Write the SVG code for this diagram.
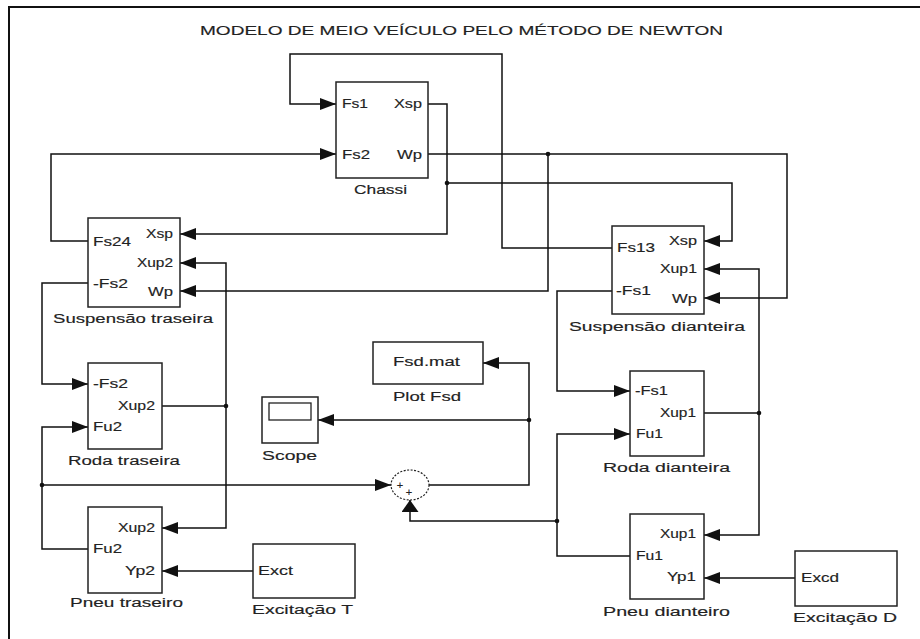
<svg xmlns="http://www.w3.org/2000/svg" width="920" height="639" viewBox="0 0 920 639">
<style>
.blk{fill:#fff;stroke:#222;stroke-width:1.5}
.ln{fill:none;stroke:#111;stroke-width:1.5}
.ar{marker-end:url(#arr)}
.t{font-family:"Liberation Sans",Arial,sans-serif;font-size:12.5px;fill:#222;stroke:#222;stroke-width:0.15}
.dot{fill:#111}
</style>
<defs>
<marker id="arr" markerUnits="userSpaceOnUse" markerWidth="17" markerHeight="13" refX="16" refY="6" orient="auto"><path d="M0,0 L16,6 L0,12 z" fill="#111"/></marker>
<marker id="arrUp" markerUnits="userSpaceOnUse" markerWidth="13" markerHeight="18" refX="12" refY="8.5" orient="auto"><path d="M0,0 L12,8.5 L0,17 z" fill="#111"/></marker>
</defs>
<rect width="920" height="639" fill="#fff"/>
<path d="M9,639 V7 H920" fill="none" stroke="#111" stroke-width="2"/>
<text class="t" x="200" y="35" textLength="523" lengthAdjust="spacingAndGlyphs" style="font-size:13px">MODELO DE MEIO VEÍCULO PELO MÉTODO DE NEWTON</text>

<g id="connectors">
<path class="ln ar" d="M612,248 H502 V54 H290 V104 H336"/>
<path class="ln ar" d="M88,241 H51 V154 H336"/>
<path class="ln ar" d="M428,104 H447 V234 H180"/>
<path class="ln ar" d="M447,183 H732 V241 H704"/>
<path class="ln ar" d="M428,154 H787 V298 H704"/>
<path class="ln ar" d="M548,154 V291 H180"/>
<path class="ln ar" d="M88,283 H42 V384 H88"/>
<path class="ln" d="M162,406 H226"/>
<path class="ln ar" d="M226,406 V263 H180"/>
<path class="ln ar" d="M226,406 V528 H162"/>
<path class="ln ar" d="M88,549 H42 V427 H88"/>
<path class="ln ar" d="M42,485 H391"/>
<path class="ln ar" d="M253,571 H162"/>
<path class="ln ar" d="M429,485 H529 V363 H483"/>
<path class="ln ar" d="M529,420 H318"/>
<path class="ln ar" d="M612,291 H557 V391 H630"/>
<path class="ln" d="M704,413 H759"/>
<path class="ln ar" d="M759,413 V269 H704"/>
<path class="ln ar" d="M759,413 V535 H704"/>
<path class="ln ar" d="M630,556 H557 V434 H630"/>
<path class="ln" d="M557,521 H410 V500" marker-end="url(#arrUp)"/>
<path class="ln ar" d="M795,578 H704"/>
<circle class="dot" cx="447" cy="183" r="2.3"/>
<circle class="dot" cx="548" cy="154" r="2.3"/>
<circle class="dot" cx="226" cy="406" r="2.3"/>
<circle class="dot" cx="42" cy="485" r="2.3"/>
<circle class="dot" cx="529" cy="420" r="2.3"/>
<circle class="dot" cx="759" cy="413" r="2.3"/>
<circle class="dot" cx="557" cy="521" r="2.3"/>
</g>

<g id="chassi">
<rect class="blk" x="336" y="82" width="92" height="96"/>
<text class="t" x="342" y="108" textLength="26" lengthAdjust="spacingAndGlyphs">Fs1</text>
<text class="t" x="394" y="108" textLength="28" lengthAdjust="spacingAndGlyphs">Xsp</text>
<text class="t" x="342" y="159" textLength="28" lengthAdjust="spacingAndGlyphs">Fs2</text>
<text class="t" x="397" y="159" textLength="25" lengthAdjust="spacingAndGlyphs">Wp</text>
<text class="t" x="354" y="194" textLength="53" lengthAdjust="spacingAndGlyphs">Chassi</text>
</g>

<g id="suspensao-traseira">
<rect class="blk" x="88" y="218" width="92" height="89"/>
<text class="t" x="93" y="246" textLength="38" lengthAdjust="spacingAndGlyphs">Fs24</text>
<text class="t" x="146" y="238" textLength="27" lengthAdjust="spacingAndGlyphs">Xsp</text>
<text class="t" x="137" y="267" textLength="36" lengthAdjust="spacingAndGlyphs">Xup2</text>
<text class="t" x="93" y="288" textLength="35" lengthAdjust="spacingAndGlyphs">-Fs2</text>
<text class="t" x="148" y="296" textLength="25" lengthAdjust="spacingAndGlyphs">Wp</text>
<text class="t" x="53" y="323" textLength="160" lengthAdjust="spacingAndGlyphs">Suspensão traseira</text>
</g>

<g id="roda-traseira">
<rect class="blk" x="88" y="363" width="74" height="86"/>
<text class="t" x="93" y="388" textLength="35" lengthAdjust="spacingAndGlyphs">-Fs2</text>
<text class="t" x="118" y="410" textLength="37" lengthAdjust="spacingAndGlyphs">Xup2</text>
<text class="t" x="93" y="431" textLength="29" lengthAdjust="spacingAndGlyphs">Fu2</text>
<text class="t" x="68" y="465" textLength="112" lengthAdjust="spacingAndGlyphs">Roda traseira</text>
</g>

<g id="pneu-traseiro">
<rect class="blk" x="88" y="507" width="74" height="86"/>
<text class="t" x="118" y="532" textLength="37" lengthAdjust="spacingAndGlyphs">Xup2</text>
<text class="t" x="93" y="553" textLength="29" lengthAdjust="spacingAndGlyphs">Fu2</text>
<text class="t" x="125" y="575" textLength="30" lengthAdjust="spacingAndGlyphs">Yp2</text>
<text class="t" x="70" y="607" textLength="113" lengthAdjust="spacingAndGlyphs">Pneu traseiro</text>
</g>

<g id="excitacao-t">
<rect class="blk" x="253" y="544" width="102" height="54"/>
<text class="t" x="258" y="575" textLength="35" lengthAdjust="spacingAndGlyphs">Exct</text>
<text class="t" x="252" y="614" textLength="101" lengthAdjust="spacingAndGlyphs">Excitação T</text>
</g>

<g id="scope">
<rect class="blk" x="262" y="397" width="56" height="46"/>
<rect x="269" y="403" width="42" height="17" fill="#fff" stroke="#222" stroke-width="1.3"/>
<text class="t" x="262" y="460" textLength="55" lengthAdjust="spacingAndGlyphs">Scope</text>
</g>

<g id="plot-fsd">
<rect class="blk" x="373" y="342" width="110" height="42"/>
<text class="t" x="393" y="366" textLength="67" lengthAdjust="spacingAndGlyphs">Fsd.mat</text>
<text class="t" x="393" y="401" textLength="68" lengthAdjust="spacingAndGlyphs">Plot Fsd</text>
</g>

<g id="sum">
<ellipse cx="410" cy="485" rx="19" ry="15" fill="#fff" stroke="#222" stroke-width="1.2" stroke-dasharray="2,1.5"/>
<text class="t" x="400" y="489" text-anchor="middle" style="font-size:11px">+</text>
<text class="t" x="409" y="496" text-anchor="middle" style="font-size:11px">+</text>
</g>

<g id="suspensao-dianteira">
<rect class="blk" x="612" y="226" width="92" height="88"/>
<text class="t" x="617" y="252" textLength="38" lengthAdjust="spacingAndGlyphs">Fs13</text>
<text class="t" x="669" y="245" textLength="28" lengthAdjust="spacingAndGlyphs">Xsp</text>
<text class="t" x="660" y="273" textLength="37" lengthAdjust="spacingAndGlyphs">Xup1</text>
<text class="t" x="616" y="295" textLength="35" lengthAdjust="spacingAndGlyphs">-Fs1</text>
<text class="t" x="672" y="303" textLength="25" lengthAdjust="spacingAndGlyphs">Wp</text>
<text class="t" x="569" y="331" textLength="176" lengthAdjust="spacingAndGlyphs">Suspensão dianteira</text>
</g>

<g id="roda-dianteira">
<rect class="blk" x="630" y="371" width="74" height="85"/>
<text class="t" x="635" y="395" textLength="33" lengthAdjust="spacingAndGlyphs">-Fs1</text>
<text class="t" x="660" y="417" textLength="36" lengthAdjust="spacingAndGlyphs">Xup1</text>
<text class="t" x="636" y="438" textLength="27" lengthAdjust="spacingAndGlyphs">Fu1</text>
<text class="t" x="603" y="472" textLength="127" lengthAdjust="spacingAndGlyphs">Roda dianteira</text>
</g>

<g id="pneu-dianteiro">
<rect class="blk" x="630" y="514" width="74" height="85"/>
<text class="t" x="660" y="538" textLength="36" lengthAdjust="spacingAndGlyphs">Xup1</text>
<text class="t" x="636" y="560" textLength="27" lengthAdjust="spacingAndGlyphs">Fu1</text>
<text class="t" x="667" y="581" textLength="29" lengthAdjust="spacingAndGlyphs">Yp1</text>
<text class="t" x="603" y="616" textLength="127" lengthAdjust="spacingAndGlyphs">Pneu dianteiro</text>
</g>

<g id="excitacao-d">
<rect class="blk" x="795" y="551" width="102" height="55"/>
<text class="t" x="801" y="582" textLength="38" lengthAdjust="spacingAndGlyphs">Excd</text>
<text class="t" x="793" y="622" textLength="104" lengthAdjust="spacingAndGlyphs">Excitação D</text>
</g>
</svg>
